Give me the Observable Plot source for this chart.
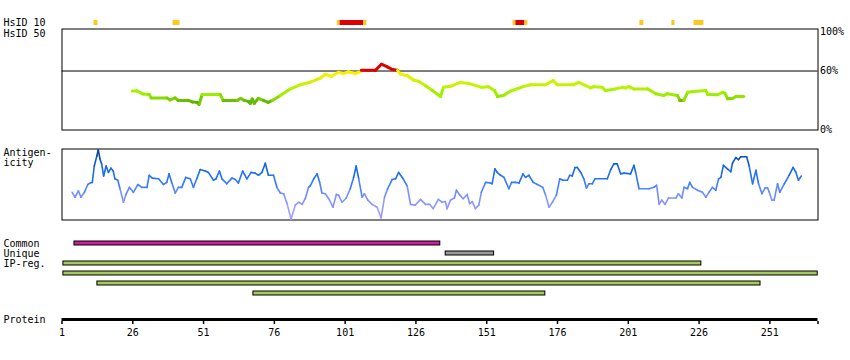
<!DOCTYPE html>
<html><head><meta charset="utf-8">
<script src="https://cdn.jsdelivr.net/npm/d3@7"></script>
<script src="https://cdn.jsdelivr.net/npm/@observablehq/plot@0.6"></script>
<style>
html,body{margin:0;padding:0;background:#fff;}
#chart{position:relative;width:850px;height:360px;background:#fff;}
#chart svg{position:absolute;left:0;top:0;}
</style></head><body><div id="chart"></div>
<script>
// ---------- data ----------
const proteinLength = 268;
const tickValues = [1, 26, 51, 76, 101, 126, 151, 176, 201, 226, 251];

// HsID 10 stretches (residue start / end, level)
const hsid10Start = [12.3, 40.2, 98.2, 99.2, 107.6, 160.3, 161.3, 164.5, 205.1, 216.4, 224.2];
const hsid10End   = [13.7, 42.7, 99.2, 107.6, 108.7, 161.3, 164.5, 165.5, 206.5, 217.5, 227.7];
const hsid10Level = ["mid", "mid", "mid", "high", "mid", "mid", "high", "mid", "mid", "mid", "mid"];

// HsID 50 curve (residue, % identity)
const hsidResidue = [25.8,27.5,28.6,29.6,31.8,32.5,38.1,39.2,41.0,42.0,45.6,47.0,48.7,49.4,50.5,56.9,57.9,62.9,64.0,65.4,66.8,67.5,68.2,68.9,70.3,72.1,73.8,75.3,78.1,81.6,85.2,88.7,92.2,94.0,96.1,98.6,100.4,102.1,104.6,106.4,106.7,111.7,113.8,115.9,117.7,119.5,120.5,123.0,125.1,126.9,129.4,131.8,134.7,135.7,138.2,141.7,144.6,149.2,151.6,153.8,154.8,156.9,159.3,163.9,166.5,171.8,174.5,175.9,181.7,183.5,187.7,188.8,191.8,193.0,196.5,198.9,200.1,201.1,202.9,207.8,210.7,213.5,214.8,218.4,219.2,220.6,222.0,224.1,228.4,229.1,232.5,234.3,235.1,236.1,237.8,239.0,241.8];
const hsidPercent = [39.8,39.8,38.1,36.6,36.1,32.6,32.6,30.6,32.6,30.1,30.1,28.6,28.1,26.1,36.1,36.1,30.1,30.1,32.1,30.1,29.1,27.1,31.6,27.1,32.1,30.1,28.1,30.1,35.1,41.6,46.1,48.6,52.7,56.7,54.5,58.7,57.5,59.2,57.5,59.5,60.7,60.7,66.9,64.2,61.5,60.7,56.9,55.2,50.9,49.6,45.1,40.1,34.1,43.4,44.4,48.4,47.4,43.4,44.1,40.1,34.1,35.1,39.4,44.1,46.1,46.1,50.2,46.1,46.1,48.4,42.8,44.1,43.4,40.1,41.8,43.4,42.8,44.1,41.8,41.8,36.8,35.1,36.8,35.1,30.1,30.1,38.4,39.1,40.1,36.1,35.8,38.4,37.4,31.8,32.1,34.1,34.1];
const pctLabels = ["100%", "60%", "0%"];
const pctValues = [100, 60, 0];

// Antigenicity (residue, relative score 0..1)
const antiResidue = [4.6,5.6,6.8,7.7,8.9,10.1,10.9,11.7,12.4,13.3,13.8,14.4,15.0,15.7,16.6,17.4,18.3,19.1,19.7,20.7,21.5,22.7,23.6,24.8,26.2,27.8,29.2,31.0,31.8,32.9,35.1,36.8,38.0,38.8,39.8,41.0,42.1,43.3,44.7,46.3,47.4,48.6,49.8,51.6,52.7,54.5,55.4,56.6,57.5,59.2,61.0,62.2,63.3,64.8,66.3,67.8,69.2,70.4,71.6,72.8,73.9,75.7,76.9,78.1,79.3,80.5,81.9,83.4,84.6,85.8,86.9,88.1,88.7,89.9,91.1,92.0,92.8,94.0,95.2,96.7,97.9,98.7,99.9,101.4,102.8,104.0,104.9,105.8,107.0,107.8,109.0,110.5,112.3,113.7,114.9,116.0,117.6,118.8,119.9,121.5,122.9,124.1,125.8,127.6,129.4,130.9,132.1,133.9,135.3,136.4,137.0,138.2,139.6,140.3,141.5,142.7,144.1,145.0,145.9,147.0,148.2,149.1,150.6,152.3,152.9,153.9,154.7,155.9,157.1,158.8,159.8,161.2,162.4,163.8,164.7,165.9,167.4,168.9,170.8,171.8,173.0,174.2,175.6,176.8,177.9,179.5,180.3,181.2,182.2,183.0,184.2,185.3,186.2,187.1,188.3,189.2,193.6,194.8,195.9,197.1,198.3,199.5,201.8,203.0,203.6,204.8,208.3,210.1,211.0,211.9,212.8,214.0,215.2,217.8,218.7,219.9,220.7,221.9,222.7,223.7,225.4,227.2,228.4,229.5,230.7,231.9,232.9,233.7,234.6,236.0,237.2,237.8,239.0,239.9,240.7,242.8,243.7,244.9,246.1,247.0,248.2,249.3,250.2,250.8,251.7,252.5,253.7,254.5,256.1,257.8,259.2,260.2,261.1,262.1];
const antiScore = [0.39,0.32,0.41,0.32,0.39,0.50,0.52,0.53,0.76,0.90,0.99,0.86,0.79,0.62,0.76,0.67,0.73,0.69,0.58,0.56,0.44,0.25,0.36,0.46,0.39,0.50,0.46,0.46,0.63,0.59,0.58,0.50,0.53,0.65,0.52,0.38,0.46,0.46,0.60,0.58,0.46,0.58,0.71,0.69,0.67,0.56,0.58,0.69,0.58,0.51,0.59,0.57,0.52,0.69,0.58,0.67,0.66,0.63,0.67,0.80,0.63,0.63,0.46,0.38,0.37,0.23,0.01,0.21,0.25,0.22,0.30,0.46,0.48,0.58,0.65,0.53,0.38,0.37,0.30,0.18,0.36,0.35,0.25,0.31,0.44,0.60,0.76,0.58,0.32,0.37,0.28,0.22,0.18,0.03,0.32,0.44,0.57,0.58,0.67,0.58,0.48,0.22,0.21,0.29,0.22,0.22,0.16,0.29,0.25,0.26,0.16,0.28,0.31,0.42,0.35,0.30,0.36,0.23,0.26,0.16,0.21,0.39,0.53,0.52,0.51,0.72,0.67,0.63,0.60,0.44,0.53,0.53,0.52,0.65,0.60,0.63,0.53,0.50,0.46,0.35,0.18,0.25,0.35,0.58,0.56,0.56,0.63,0.62,0.74,0.74,0.67,0.58,0.45,0.51,0.51,0.58,0.58,0.71,0.79,0.79,0.65,0.66,0.65,0.77,0.67,0.44,0.44,0.46,0.49,0.22,0.28,0.22,0.31,0.31,0.37,0.31,0.46,0.44,0.53,0.46,0.42,0.39,0.32,0.39,0.46,0.42,0.58,0.60,0.77,0.72,0.68,0.80,0.88,0.85,0.89,0.89,0.76,0.51,0.70,0.51,0.37,0.45,0.45,0.39,0.28,0.28,0.51,0.39,0.51,0.63,0.74,0.67,0.56,0.62];

// Feature bars
const featureRows  = ["Common", "Unique", "IP-reg. 1", "IP-reg. 2", "IP-reg. 3", "IP-reg. 4"];
const featureStart = [5.4, 136.5, 1.5, 1.5, 13.5, 68.6];
const featureEnd   = [134.6, 153.6, 226.8, 267.9, 247.7, 171.7];
const featureKind  = ["common", "unique", "ipr", "ipr", "ipr", "ipr"];
const rowLabels    = ["Common", "Unique", "IP-reg."];
const rowLabelKeys = ["Common", "Unique", "IP-reg. 1"];

// ---------- helpers ----------
const W = 850, H = 360;
const FONT = "DejaVu Sans Mono";
const LABEL_DX = -58.5;
const base = (mt, mb, xExtra = {}) => ({
  width: W, height: H,
  marginLeft: 61.5, marginRight: 32.5, marginTop: mt, marginBottom: mb,
  x: {domain: [1, proteinLength], axis: null, ...xExtra},
  color: {type: "identity"},
  style: {background: "transparent", fontFamily: FONT, fontSize: "10px", color: "black", overflow: "visible"}
});

const hsColor = d3.scaleLinear()
  .domain([26, 30, 32.6, 36, 40, 45, 50, 55, 60])
  .range(["#4fa000", "#66c000", "#88dd00", "#9cee00", "#a8f000", "#c0f400", "#d4f000", "#f0f000", "#ffee00"])
  .clamp(true);
const antiColor = d3.scaleLinear()
  .domain([0, 0.2, 0.35, 0.5, 0.65, 0.8, 1.0])
  .range(["#b4a8ff", "#9098ff", "#7890ff", "#3a7dff", "#1a6ef0", "#0f5ed6", "#0a3c8c"])
  .clamp(true);

const hsPts = hsidResidue.map((r, i) => ({r, v: hsidPercent[i]}));
const hsSegs = d3.pairs(hsPts).map(([a, b]) => ({
  x1: a.r, y1: a.v, x2: b.r, y2: b.v,
  color: Math.min(a.v, b.v) >= 60 ? "#dd0000" : hsColor((a.v + b.v) / 2)
}));
const anPts = antiResidue.map((r, i) => ({r, v: antiScore[i]}));
const anSegs = d3.pairs(anPts).map(([a, b]) => ({
  x1: a.r, y1: a.v, x2: b.r, y2: b.v, color: antiColor((a.v + b.v) / 2)
}));
const h10 = hsid10Start.map((s, i) => ({x1: s, x2: hsid10End[i], color: hsid10Level[i] === "high" ? "#dd0000" : "#ffc81e"}));
const kindColor = {common: "#cc1f9e", unique: "#999999", ipr: "#a6c95c"};
const feats = featureRows.map((row, i) => ({row, x1: featureStart[i], x2: featureEnd[i], color: kindColor[featureKind[i]]}));

const plots = [];

// HsID 10
plots.push(Plot.plot({...base(20, 335), marks: [
  Plot.rect(h10, {x1: "x1", x2: "x2", fill: "color"}),
  Plot.text(["HsID 10"], {frameAnchor: "bottom-left", dx: LABEL_DX, dy: 0.5, textAnchor: "start", lineAnchor: "bottom", fill: "black"})
]}));

// HsID 50
plots.push(Plot.plot({...base(28.5, 230.5),
  y: {domain: [0, 100], range: [129.5, 31.2], axis: null},
  marks: [
    Plot.frame({stroke: "black"}),
    Plot.ruleY([60], {stroke: "black"}),
    Plot.link(hsSegs, {x1: "x1", y1: "y1", x2: "x2", y2: "y2", stroke: "color", strokeWidth: 3, strokeLinecap: "round"}),
    Plot.text(pctValues, {y: d => d, text: (d, i) => pctLabels[i], frameAnchor: "right", dx: 2, textAnchor: "start", lineAnchor: "middle", fill: "black"}),
    Plot.text(["HsID 50"], {frameAnchor: "top-left", dx: LABEL_DX, dy: 7.5, textAnchor: "start", lineAnchor: "bottom", fill: "black"})
  ]}));

// Antigenicity
plots.push(Plot.plot({...base(148.5, 140.5),
  y: {domain: [0, 1], axis: null},
  marks: [
    Plot.frame({stroke: "black"}),
    Plot.link(anSegs, {x1: "x1", y1: "y1", x2: "x2", y2: "y2", stroke: "color", strokeWidth: 1.6, strokeLinecap: "round"}),
    Plot.text(["Antigen-\nicity"], {frameAnchor: "top-left", dx: LABEL_DX, textAnchor: "start", lineAnchor: "top", lineHeight: 1, fill: "black"})
  ]}));

// Features
plots.push(Plot.plot({...base(237.5, 62.5),
  y: {type: "band", domain: featureRows, range: [237.5, 297.5], paddingInner: 0.6, paddingOuter: 0.3, axis: null},
  marks: [
    Plot.barX(feats, {x1: "x1", x2: "x2", y: "row", fill: "color", stroke: "black", strokeWidth: 1}),
    Plot.text(rowLabels, {y: (d, i) => rowLabelKeys[i], text: d => d, frameAnchor: "left", dx: LABEL_DX, textAnchor: "start", lineAnchor: "middle", fill: "black"})
  ]}));

// Protein axis
plots.push(Plot.plot({...base(318, 39, {axis: undefined, label: null}),
  marks: [
    Plot.rect([{s: 1, e: proteinLength}], {x1: "s", x2: "e", fill: "black"}),
    Plot.axisX(tickValues, {anchor: "bottom", tickSize: 3, tickPadding: 4, strokeWidth: 1.5, label: null, fill: "black"}),
    Plot.axisX([proteinLength], {anchor: "bottom", tickSize: 3, tickFormat: () => "", strokeWidth: 1.5, label: null}),
    Plot.text(["Protein"], {frameAnchor: "top-left", dx: LABEL_DX, dy: 4.5, textAnchor: "start", lineAnchor: "bottom", fill: "black"})
  ]}));

const chart = document.getElementById("chart");
plots.forEach(p => chart.appendChild(p));
</script></body></html>
